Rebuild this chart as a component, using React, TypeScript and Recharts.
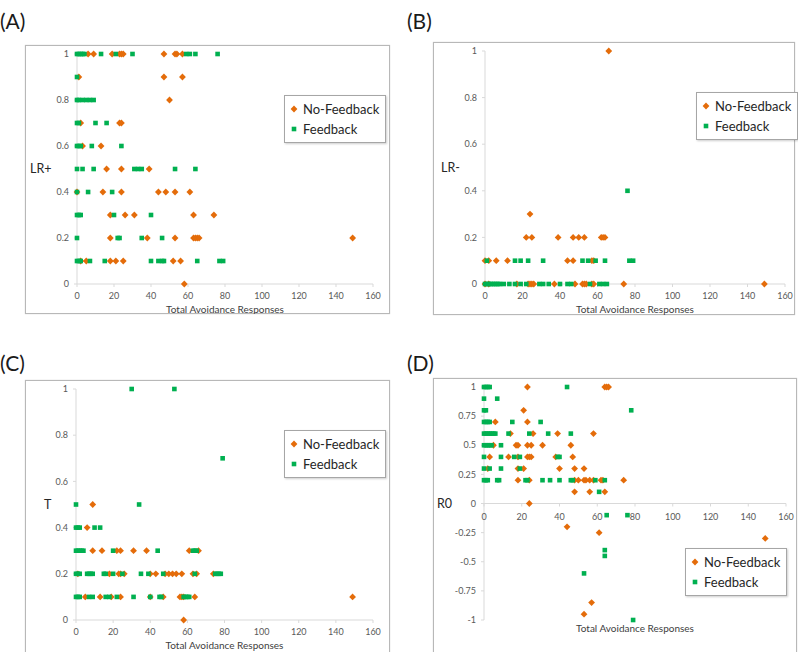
import React from "react";
import { ScatterChart, Scatter, XAxis, YAxis, Label, Legend, ReferenceLine } from "recharts";

// each row: [y value, x values of the points sitting on that row]
type Row = [number, number[]];

const ORANGE = "#E46C0A";
const GREEN = "#00B050";
const AXIS = "#D9D9D9";
const TICK_TEXT = "#595959";

const xTicks = [0, 20, 40, 60, 80, 100, 120, 140, 160];
const unitTicks = [0, 0.2, 0.4, 0.6, 0.8, 1];
const r0Ticks = [-1, -0.75, -0.5, -0.25, 0, 0.25, 0.5, 0.75, 1];

// (A) LR+
const lrPlusNoFeedback: Row[] = [
  [1, [6, 9, 19, 23, 24, 25, 47, 53, 54, 57]],
  [0.9, [1, 47, 57]],
  [0.8, [50]],
  [0.7, [2, 23, 24]],
  [0.6, [3, 13]],
  [0.5, [16, 24, 39]],
  [0.4, [0, 14, 24, 44, 48, 53, 61]],
  [0.3, [18, 26, 31, 63, 74]],
  [0.2, [18, 38, 53, 63, 64, 65, 66, 149]],
  [0.1, [2, 5, 18, 21, 25, 52, 56]],
  [0, [58]],
];
const lrPlusFeedback: Row[] = [
  [1, [0, 1, 2, 3, 4, 13, 21, 30, 59, 61, 64, 76]],
  [0.9, [0]],
  [0.8, [0, 1, 3, 5, 7, 9]],
  [0.7, [0, 1, 10, 16]],
  [0.6, [0, 1, 2, 8, 24]],
  [0.5, [0, 3, 9, 31, 33, 35, 53, 64]],
  [0.4, [0, 6, 19]],
  [0.3, [0, 1, 2, 20, 40]],
  [0.2, [0, 22, 23, 35, 46]],
  [0.1, [0, 1, 2, 7, 15, 40, 44, 46, 47, 65, 77, 79]],
];

// (B) LR-
const lrMinusNoFeedback: Row[] = [
  [1, [66]],
  [0.3, [24]],
  [0.2, [22, 25, 39, 47, 50, 53, 62, 63, 64]],
  [0.1, [0, 2, 6, 12, 44, 47, 57, 58]],
  [0, [0, 2, 17, 23, 24, 25, 26, 37, 48, 52, 53, 54, 57, 58, 74, 149]],
];
const lrMinusFeedback: Row[] = [
  [0.4, [76]],
  [0.1, [1, 16, 19, 23, 31, 52, 55, 59, 64, 77, 79]],
  [0, [0, 1, 2, 3, 4, 5, 6, 7, 8, 10, 13, 16, 19, 22, 29, 31, 34, 40, 44, 46, 56, 61, 63, 65]],
];

// (C) T
const tNoFeedback: Row[] = [
  [0.5, [9]],
  [0.4, [6]],
  [0.3, [9, 14, 22, 24, 31, 38, 61, 66]],
  [0.2, [1, 18, 23, 24, 26, 40, 43, 48, 50, 52, 54, 57, 63, 65, 74]],
  [0.1, [5, 13, 19, 24, 40, 47, 56, 57, 58, 64, 149]],
  [0, [58]],
];
const tFeedback: Row[] = [
  [1, [30, 53]],
  [0.7, [79]],
  [0.5, [0, 34]],
  [0.4, [0, 1, 2, 10, 13]],
  [0.3, [0, 1, 2, 3, 4, 20, 44, 63, 64, 65]],
  [0.2, [0, 1, 2, 6, 7, 8, 9, 15, 16, 20, 25, 35, 39, 47, 64, 75, 76, 77, 78]],
  [0.1, [0, 1, 2, 7, 9, 16, 18, 22, 31, 40, 45, 46, 58, 59, 60, 61]],
];

// (D) R0
const r0NoFeedback: Row[] = [
  [1, [23, 64, 65, 66]],
  [0.8, [21]],
  [0.7, [6, 23]],
  [0.6, [14, 26, 39, 58]],
  [0.5, [5, 17, 18, 23, 25, 31, 46]],
  [0.4, [3, 13, 18, 23, 24, 25, 38, 47]],
  [0.3, [2, 18, 21, 40, 48, 53]],
  [0.2, [18, 24, 48, 50, 53, 54, 56, 58, 62, 63, 74]],
  [0.1, [48, 56, 64]],
  [0, [24]],
  [-0.2, [44]],
  [-0.25, [61]],
  [-0.3, [149]],
  [-0.85, [57]],
  [-0.95, [53]],
];
const r0Feedback: Row[] = [
  [1, [0, 1, 2, 3, 44]],
  [0.9, [0, 7]],
  [0.8, [0, 1, 78]],
  [0.7, [0, 1, 2, 3, 15, 30]],
  [0.6, [0, 1, 2, 3, 4, 5, 6, 13, 24, 34, 46]],
  [0.5, [0, 1, 2, 3, 4, 9]],
  [0.4, [0, 9, 16, 19, 39, 40]],
  [0.3, [0, 3, 9, 19]],
  [0.2, [0, 1, 2, 7, 8, 22, 23, 31, 35, 40, 46, 47, 59, 64]],
  [0.1, [61]],
  [-0.1, [65, 76]],
  [-0.4, [64]],
  [-0.45, [64]],
  [-0.6, [53]],
  [-1, [79]],
];

const toPoints = (rows: Row[]) => rows.flatMap(([y, xs]) => xs.map((x) => ({ x, y })));

const Diamond = (p: any) => (
  <polygon
    points={`${p.cx},${p.cy - 3.4} ${p.cx + 3.4},${p.cy} ${p.cx},${p.cy + 3.4} ${p.cx - 3.4},${p.cy}`}
    fill={ORANGE}
  />
);
const Square = (p: any) => <rect x={p.cx - 2.3} y={p.cy - 2.3} width={4.6} height={4.6} fill={GREEN} />;

// series order: No-Feedback (diamond) first, then Feedback
const LegendBox = ({ payload }: any) => {
  const items = [...(payload || [])].sort(
    (a: any, b: any) => (a.type === "diamond" ? 0 : 1) - (b.type === "diamond" ? 0 : 1)
  );
  return (
    <div
      style={{
        width: 96,
        border: "1px solid #A6A6A6",
        boxShadow: "1px 1px 2px rgba(0,0,0,0.2)",
        background: "#fff",
        padding: "3px 0 3px 4px",
        fontSize: 13,
        lineHeight: "20px",
        color: "#262626",
      }}
    >
      {items.map((e: any) => (
        <div key={e.value} style={{ display: "flex", alignItems: "center" }}>
          <svg width={10} height={10}>
            {e.type === "diamond" ? <Diamond cx={5} cy={5} /> : <Square cx={5} cy={5} />}
          </svg>
          <span style={{ marginLeft: 4 }}>{e.value}</span>
        </div>
      ))}
    </div>
  );
};

type PanelProps = {
  left: number;
  top: number;
  width: number;
  height: number;
  inset: { l: number; t: number; r: number; b: number };
  yLabel: string;
  yLabelOffset: number;
  yTicks: number[];
  yDomain: [number, number];
  noFeedback: Row[];
  feedback: Row[];
  legendAt: [number, number];
  titleOffset: number;
  zeroAxis?: boolean;
};

function Panel(props: PanelProps) {
  const { left, top, width, height, inset, yTicks, yDomain, zeroAxis } = props;
  const plotH = height - inset.t - inset.b;
  const zeroY = inset.t + plotH / 2;

  // R0 panel: x axis crosses at y = 0, ticks drawn on that line
  const zeroTick = (p: any) => (
    <g>
      <line x1={p.x} x2={p.x} y1={zeroY} y2={zeroY + 3} stroke={AXIS} />
      <text x={p.x} y={zeroY + 16} textAnchor="middle" fontSize={9} fill={TICK_TEXT}>
        {p.payload.value}
      </text>
    </g>
  );

  return (
    <>
      <div
        style={{
          position: "absolute",
          left,
          top,
          width,
          height,
          boxSizing: "border-box",
          border: "1px solid #B8B8B8",
          boxShadow: "0 0 1px #C8C8C8",
        }}
      />
      <div style={{ position: "absolute", left, top }}>
        <ScatterChart
          width={width}
          height={height}
          margin={{ top: inset.t, right: inset.r, bottom: 0, left: 0 }}
        >
          <XAxis
            type="number"
            dataKey="x"
            domain={[0, 160]}
            ticks={xTicks}
            interval={0}
            height={inset.b}
            axisLine={zeroAxis ? false : { stroke: AXIS }}
            tickLine={zeroAxis ? false : { stroke: AXIS }}
            tickSize={3}
            tickMargin={6}
            tick={zeroAxis ? zeroTick : { fontSize: 9, fill: TICK_TEXT }}
          >
            <Label
              value="Total Avoidance Responses"
              position="insideTop"
              offset={props.titleOffset}
              fill="#404040"
              fontSize={10}
            />
          </XAxis>
          <YAxis
            type="number"
            dataKey="y"
            domain={yDomain}
            ticks={yTicks}
            interval={0}
            width={inset.l}
            axisLine={{ stroke: AXIS }}
            tickLine={{ stroke: AXIS }}
            tickSize={3}
            tickMargin={5}
            tick={{ fontSize: 9, fill: TICK_TEXT }}
          >
            <Label
              value={props.yLabel}
              position="insideLeft"
              offset={props.yLabelOffset}
              fill="#262626"
              fontSize={12.5}
            />
          </YAxis>
          {zeroAxis && <ReferenceLine y={0} stroke={AXIS} />}
          <Legend
            layout="vertical"
            align="center"
            verticalAlign="middle"
            content={<LegendBox />}
            wrapperStyle={{ left: props.legendAt[0], top: props.legendAt[1], width: 98 }}
          />
          <Scatter
            name="No-Feedback"
            data={toPoints(props.noFeedback)}
            fill={ORANGE}
            legendType="diamond"
            shape={Diamond}
            isAnimationActive={false}
          />
          <Scatter
            name="Feedback"
            data={toPoints(props.feedback)}
            fill={GREEN}
            legendType="square"
            shape={Square}
            isAnimationActive={false}
          />
        </ScatterChart>
      </div>
    </>
  );
}

const tagStyle: React.CSSProperties = {
  position: "absolute",
  fontSize: 21,
  lineHeight: "24px",
  color: "#1A1A1A",
};

export default function App() {
  return (
    <div
      style={{
        position: "absolute",
        left: 0,
        top: 0,
        width: 798,
        height: 652,
        overflow: "hidden",
        background: "#fff",
        fontFamily: "Lato, 'Noto Sans', sans-serif",
      }}
    >
      <div style={{ ...tagStyle, left: 0, top: 9 }}>(A)</div>
      <div style={{ ...tagStyle, left: 407, top: 9 }}>(B)</div>
      <div style={{ ...tagStyle, left: 0, top: 351 }}>(C)</div>
      <div style={{ ...tagStyle, left: 407, top: 351 }}>(D)</div>

      <Panel
        left={25}
        top={45}
        width={365}
        height={269}
        inset={{ l: 52, t: 9, r: 17, b: 30 }}
        yLabel="LR+"
        yLabelOffset={5}
        yTicks={unitTicks}
        yDomain={[0, 1]}
        noFeedback={lrPlusNoFeedback}
        feedback={lrPlusFeedback}
        legendAt={[259, 50]}
        titleOffset={22}
      />
      <Panel
        left={433}
        top={42}
        width={362}
        height={273}
        inset={{ l: 52, t: 9, r: 10, b: 31 }}
        yLabel="LR-"
        yLabelOffset={8}
        yTicks={unitTicks}
        yDomain={[0, 1]}
        noFeedback={lrMinusNoFeedback}
        feedback={lrMinusFeedback}
        legendAt={[263, 50]}
        titleOffset={22}
      />
      <Panel
        left={25}
        top={380}
        width={365}
        height={285}
        inset={{ l: 51, t: 9, r: 17, b: 45 }}
        yLabel="T"
        yLabelOffset={19}
        yTicks={unitTicks}
        yDomain={[0, 1]}
        noFeedback={tNoFeedback}
        feedback={tFeedback}
        legendAt={[259, 50]}
        titleOffset={21.5}
      />
      <Panel
        left={433}
        top={378}
        width={364}
        height={287}
        inset={{ l: 51, t: 9, r: 11, b: 45 }}
        yLabel="R0"
        yLabelOffset={4}
        yTicks={r0Ticks}
        yDomain={[-1, 1]}
        noFeedback={r0NoFeedback}
        feedback={r0Feedback}
        legendAt={[252, 170]}
        titleOffset={4.5}
        zeroAxis
      />
    </div>
  );
}
